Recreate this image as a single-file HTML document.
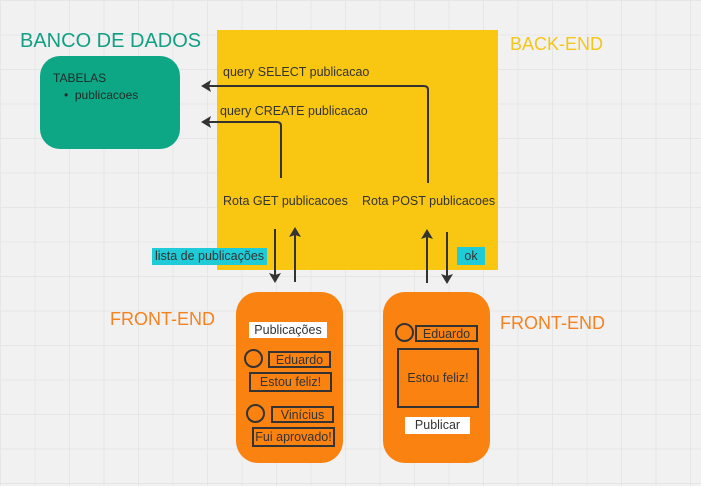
<!DOCTYPE html>
<html><head><meta charset="utf-8"><style>
body{margin:0;width:701px;height:486px;overflow:hidden;background:#f1f1f1;
background-image:linear-gradient(#e6e6e6 1px,transparent 1px),linear-gradient(90deg,#e6e6e6 1px,transparent 1px);
background-size:34.5px 34.5px;background-position:0 0;font-family:"Liberation Sans",sans-serif;position:relative}
.a{position:absolute;white-space:nowrap}
.bx{position:absolute;border:2px solid #333;box-sizing:border-box;font-size:12.5px;color:#333;text-align:center}
</style></head><body>
<div class="a" style="left:217px;top:30px;width:281px;height:240px;background:#f9c712"></div>
<div class="a" style="left:40px;top:56px;width:140px;height:93px;background:#0ea786;border-radius:20px"></div>
<div class="a" style="left:20px;top:30px;font-size:20px;color:#12a085">BANCO DE DADOS</div>
<div class="a" style="left:510px;top:34px;font-size:18px;color:#f5c518">BACK-END</div>
<div class="a" style="left:53px;top:71px;font-size:12px;color:#1c2a25">TABELAS</div>
<div class="a" style="left:64px;top:88px;font-size:12px;color:#1c2a25">•&nbsp;&nbsp;publicacoes</div>
<div class="a" style="left:223px;top:65px;font-size:12.5px;color:#333">query SELECT publicacao</div>
<div class="a" style="left:220px;top:104px;font-size:12.5px;color:#333">query CREATE publicacao</div>
<div class="a" style="left:223px;top:194px;font-size:12.5px;color:#333">Rota GET publicacoes</div>
<div class="a" style="left:362px;top:194px;font-size:12.5px;color:#333">Rota POST publicacoes</div>
<div class="a" style="left:152px;top:248px;width:115px;height:17px;background:#1ecbd6;font-size:12.5px;color:#333;line-height:17px;text-align:center">lista de publicações</div>
<div class="a" style="left:457px;top:247px;width:28px;height:18px;background:#1ecbd6;font-size:12.5px;color:#333;line-height:18px;text-align:center">ok</div>
<svg class="a" style="left:0;top:0" width="701" height="486">
<g fill="none" stroke="#333" stroke-width="2">
<path d="M428 183 V90 Q428 86 424 86 H208"/>
<path d="M281 178 V126 Q281 122 277 122 H208"/>
<path d="M275 229 V276"/><path d="M295 282 V234"/>
<path d="M427 283 V236"/><path d="M447 232 V277"/>
</g>
<g fill="#333">
<path d="M201 86 L211 80 L209 86 L211 92Z"/><path d="M201 122 L211 116 L209 122 L211 128Z"/>
<path d="M275 283 L269 273 L275 275 L281 273Z"/><path d="M295 227 L289 237 L295 235 L301 237Z"/>
<path d="M427 229 L421 239 L427 237 L433 239Z"/><path d="M447 284 L441 274 L447 276 L453 274Z"/>
</g>
</svg>
<div class="a" style="left:236px;top:292px;width:107px;height:171px;background:#fa8211;border-radius:22px"></div>
<div class="a" style="left:383px;top:292px;width:107px;height:171px;background:#fa8211;border-radius:22px"></div>
<div class="a" style="left:110px;top:309px;font-size:18px;color:#f5821f">FRONT-END</div>
<div class="a" style="left:500px;top:313px;font-size:18px;color:#f5821f">FRONT-END</div>
<div class="a" style="left:249px;top:322px;width:78px;height:16px;background:#fff;font-size:12.5px;color:#333;line-height:16px;text-align:center">Publicações</div>
<div class="bx" style="left:244px;top:349px;width:19px;height:19px;border-radius:50%"></div>
<div class="bx" style="left:268px;top:351px;width:63px;height:17px;line-height:14px">Eduardo</div>
<div class="bx" style="left:249px;top:372px;width:83px;height:20px;line-height:17px">Estou feliz!</div>
<div class="bx" style="left:246px;top:404px;width:19px;height:19px;border-radius:50%"></div>
<div class="bx" style="left:271px;top:406px;width:63px;height:17px;line-height:14px">Vinícius</div>
<div class="bx" style="left:252px;top:427px;width:83px;height:20px;line-height:17px">Fui aprovado!</div>
<div class="bx" style="left:395px;top:323px;width:19px;height:19px;border-radius:50%"></div>
<div class="bx" style="left:415px;top:325px;width:63px;height:17px;line-height:14px">Eduardo</div>
<div class="bx" style="left:397px;top:348px;width:82px;height:60px;line-height:56px">Estou feliz!</div>
<div class="a" style="left:405px;top:417px;width:65px;height:17px;background:#fff;font-size:12.5px;color:#333;line-height:17px;text-align:center">Publicar</div>
</body></html>
